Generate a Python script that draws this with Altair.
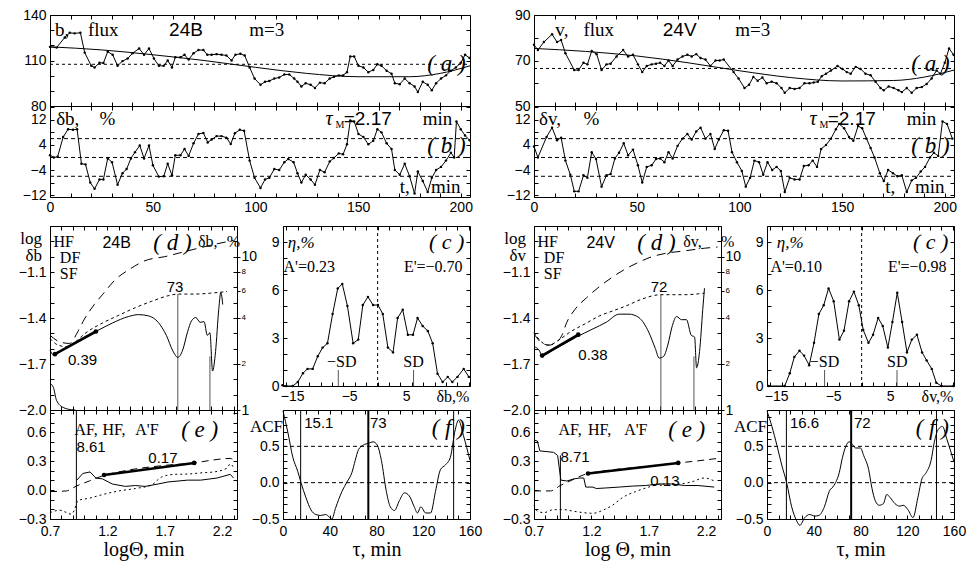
import altair as alt
import pandas as pd

SANS = "Liberation Sans"
SERIF = "Liberation Serif"
CW, CH = 964, 562

# ---------------- (a) flux, b and v ----------------
aL_t = [0, 3.2, 7.2, 9.6, 12.0, 14.8, 16.9, 20.1, 21.7, 24.1, 26.0, 28.1, 30.5, 32.9, 35.3, 37.8, 40.2, 43.4, 45.8, 48.2,
        50.6, 53.0, 55.4, 57.3, 59.4, 61.0, 63.5, 65.5, 67.5, 69.9, 72.3, 74.7, 76.6, 78.7, 81.1, 83.5, 85.9, 88.4, 90.3, 92.7,
        94.8, 97.2, 99.6, 102.5, 104.7, 106.8, 109.2, 111.6, 114.1, 116.5, 118.9, 120.5, 122.4, 124.5, 126.9, 129.0, 131.4, 133.7, 136.2, 138.2,
        140.6, 142.7, 144.6, 146.2, 148.1, 150.2, 152.6, 155.0, 157.4, 159.4, 161.4, 163.9, 166.3, 167.9, 170.3, 172.7, 175.1, 177.5, 179.1, 181.5,
        183.9, 185.9, 188.0, 190.4, 192.8, 195.2, 197.6, 200.0, 202.1, 204.3]
aL_v = [119.0, 118.5, 125.2, 128.3, 127.9, 128.3, 115.2, 106.5, 105.4, 108.5, 108.3, 115.8, 113.8, 106.5, 109.6, 111.3, 114.8, 117.9, 113.8, 117.9,
        111.3, 106.5, 106.5, 110.0, 105.4, 112.1, 112.1, 113.8, 110.6, 114.8, 116.9, 116.9, 113.8, 113.8, 114.2, 113.8, 113.3, 110.0, 113.8, 114.4,
        113.3, 105.4, 98.1, 94.0, 96.0, 96.5, 98.1, 98.8, 100.8, 100.8, 98.1, 96.0, 92.9, 95.0, 94.0, 91.9, 95.4, 95.0, 98.1, 99.2,
        100.2, 100.2, 102.3, 112.7, 112.7, 106.5, 105.4, 102.3, 103.8, 107.5, 106.5, 103.3, 101.3, 95.0, 94.4, 98.1, 95.0, 92.9, 89.2, 96.0,
        94.0, 90.4, 95.0, 98.1, 100.2, 103.3, 105.4, 108.5, 113.8, 111.7]
trend_t = [0, 25, 50, 75, 100, 125, 150, 175, 190, 204.5]
trendL_v = [119.0, 117.0, 113.8, 110.0, 105.5, 101.5, 99.3, 99.3, 101.5, 106.5]
aR_t = [0, 1.9, 4.8, 8.8, 11.2, 13.2, 15.3, 19.6, 21.7, 24.1, 26.0, 28.1, 30.5, 32.9, 35.3, 37.3, 40.2, 43.4, 45.8, 48.2,
        50.6, 52.7, 54.9, 57.3, 59.4, 61.4, 63.5, 65.5, 67.5, 69.9, 72.3, 74.7, 76.8, 79.0, 81.1, 83.5, 85.9, 88.4, 90.4, 92.4,
        97.2, 99.6, 102.5, 104.7, 106.8, 108.9, 111.2, 113.3, 115.7, 118.1, 120.5, 122.1, 124.5, 126.9, 129.3, 131.7, 134.1, 136.2, 138.2, 140.1,
        142.2, 144.6, 147.8, 150.2, 152.3, 154.2, 156.6, 159.0, 161.4, 163.9, 166.3, 168.7, 170.3, 172.7, 175.1, 177.5, 179.1, 181.5, 183.9, 186.3,
        188.8, 191.2, 193.6, 196.0, 197.9, 200.0, 202.1, 204.3]
aR_v = [76.9, 74.6, 78.1, 81.5, 78.1, 79.0, 73.2, 65.8, 65.8, 69.0, 68.3, 74.2, 72.8, 65.8, 68.3, 68.6, 71.8, 74.6, 71.8, 72.5,
        68.3, 64.9, 67.6, 68.3, 68.6, 69.0, 67.6, 70.0, 67.6, 70.4, 71.8, 72.5, 71.8, 72.8, 71.1, 70.4, 67.6, 70.0, 70.0, 70.4,
        64.9, 62.1, 57.9, 59.3, 62.8, 61.1, 62.5, 60.0, 60.7, 60.0, 57.9, 55.8, 57.9, 57.5, 57.9, 60.0, 60.0, 60.3, 60.7, 63.1,
        64.2, 65.6, 67.6, 66.3, 64.9, 64.2, 67.2, 66.3, 64.2, 63.5, 60.7, 57.9, 56.9, 58.6, 57.9, 56.9, 56.1, 57.9, 55.8, 57.9,
        58.3, 59.7, 62.1, 65.6, 64.2, 69.0, 75.3, 72.5]
trendR_v = [75.3, 74.0, 72.0, 69.0, 65.5, 62.5, 61.0, 61.2, 62.7, 65.8]

# ---------------- (b) relative deviations, % ----------------
bL_t = [0, 1.9, 3.7, 6.4, 8.8, 11.2, 13.2, 15.3, 17.3, 19.6, 21.7, 24.1, 26.0, 28.1, 30.2, 32.9, 35.3, 37.3, 39.4, 41.4,
        43.7, 45.8, 48.2, 50.1, 53.0, 55.4, 57.3, 59.4, 61.0, 63.5, 65.5, 67.5, 69.9, 72.3, 74.7, 76.8, 78.7, 81.1, 83.5, 85.9,
        88.0, 90.0, 92.4, 94.5, 97.2, 99.6, 102.5, 104.7, 106.8, 109.2, 111.6, 114.1, 116.0, 118.6, 120.5, 122.4, 124.5, 126.9, 129.0, 131.4,
        133.7, 136.2, 138.2, 140.6, 142.7, 144.6, 146.2, 148.1, 150.2, 152.6, 155.0, 157.4, 159.4, 161.4, 163.9, 166.3, 167.9, 170.3, 172.7, 175.1,
        177.5, 179.1, 181.5, 183.9, 185.9, 188.0, 190.4, 192.8, 195.2, 196.8, 197.9, 200.0, 202.1, 204.3]
bL_v = [0.7, 0.0, 0.2, 6.5, 9.0, 8.8, 9.0, -2.0, -2.2, -8.0, -10.0, -7.0, -7.0, -0.3, -1.5, -8.7, -5.0, -3.7, -0.3, 1.7,
        3.8, -0.3, 3.8, -2.5, -6.1, -6.0, -2.0, -5.7, 0.7, 0.7, 2.7, 0.5, 4.5, 7.5, 7.8, 4.8, 5.7, 6.8, 6.8, 6.3,
        4.3, 7.7, 8.8, 8.5, -1.0, -6.5, -9.7, -7.0, -6.5, -3.7, -4.0, -1.5, -0.5, -1.5, -5.0, -8.0, -5.5, -7.0, -8.7, -4.0,
        -4.7, -1.3, -0.2, 1.3, 1.0, 4.2, 11.8, 11.5, 7.5, 6.5, 4.2, 5.3, 9.0, 8.0, 4.5, 2.7, -4.0, -5.5, -2.0, -6.0,
        -11.5, -4.5, -7.5, -11.0, -6.5, -4.0, -3.0, -1.0, 1.5, 0.0, 11.5, 9.0, 7.0, 5.5]
bR_t = [0, 1.9, 6.1, 8.8, 11.2, 13.2, 15.3, 17.7, 19.6, 21.7, 24.1, 26.0, 28.1, 30.2, 32.9, 35.3, 37.3, 39.4, 41.4, 43.7,
        45.8, 48.2, 50.6, 52.7, 54.9, 57.3, 59.4, 61.4, 63.5, 65.5, 67.5, 69.9, 72.3, 74.7, 76.8, 79.0, 81.1, 83.5, 85.9, 88.0,
        90.0, 92.4, 94.5, 96.4, 98.8, 101.2, 103.1, 105.2, 107.3, 109.6, 111.6, 113.7, 116.0, 118.1, 120.2, 122.1, 124.5, 126.9, 129.3, 131.4,
        133.7, 135.7, 137.8, 139.8, 142.2, 144.6, 147.0, 148.6, 151.0, 153.4, 155.5, 157.8, 159.8, 161.9, 163.9, 165.8, 168.4, 170.3, 172.4, 174.8,
        177.0, 179.1, 181.5, 183.9, 186.0, 188.3, 190.4, 192.8, 194.7, 196.8, 198.9, 201.1, 203.7]
bR_v = [3.5, 0.0, 6.5, 9.5, 5.5, 6.3, -1.0, -5.5, -10.8, -10.8, -5.7, -6.5, 1.7, -0.5, -9.3, -5.7, -5.3, -0.3, 1.5, 4.5,
        0.7, 2.5, -2.5, -8.0, -3.0, -2.5, -0.5, -0.3, -1.5, 1.7, -0.3, 3.7, 6.0, 7.5, 5.7, 8.3, 9.5, 6.0, 7.5, 2.7,
        5.7, 8.7, 8.5, 1.7, -1.5, -4.3, -9.3, -6.5, -1.0, -1.5, -5.5, -1.5, -4.0, -3.0, -4.3, -11.0, -6.5, -7.0, -7.0, -2.7,
        -2.5, -1.0, -3.0, 2.7, 4.0, 6.0, 9.0, 10.7, 9.3, 6.5, 5.3, 10.0, 9.3, 6.0, 3.0, 0.0, -5.0, -7.5, -4.0, -5.0,
        -6.0, -5.7, -11.0, -7.3, -6.5, -4.5, -3.0, 0.0, 1.5, 0.5, 11.5, 10.7, 6.0]
b_levels = [6.0, 0.0, -6.0]

# ---------------- (d) log structure functions ----------------
dL_hf_x = [0.7, 0.786, 0.871, 0.943, 1.0, 1.086, 1.157, 1.271, 1.4, 1.529, 1.7, 1.843, 2.014, 2.157, 2.3]
dL_hf_y = [-1.513, -1.556, -1.566, -1.488, -1.407, -1.312, -1.248, -1.149, -1.079, -1.026, -1.0, -0.973, -0.941, -0.916, -0.894]
dL_df_x = [0.7, 0.771, 0.843, 0.914, 1.014, 1.157, 1.3, 1.443, 1.586, 1.729, 1.814, 1.957, 2.1, 2.243]
dL_df_y = [-1.534, -1.577, -1.587, -1.56, -1.496, -1.433, -1.382, -1.333, -1.291, -1.255, -1.244, -1.244, -1.238, -1.227]
dL_sf_x = [0.7, 0.729, 0.814, 0.957, 1.1, 1.243, 1.386, 1.471, 1.557, 1.643, 1.714, 1.771, 1.814, 1.857, 1.9, 1.934,
           1.971, 2.009, 2.043, 2.071, 2.094, 2.117, 2.143, 2.171, 2.189, 2.206]
dL_sf_y = [-1.608, -1.640, -1.608, -1.545, -1.488, -1.433, -1.39, -1.378, -1.386, -1.428, -1.513, -1.615, -1.657, -1.608, -1.488, -1.418,
           -1.397, -1.428, -1.424, -1.513, -1.496, -1.746, -1.619, -1.344, -1.233, -1.312]
dL_lo_x = [0.7, 0.729, 0.757, 0.814, 0.886, 0.92]
dL_lo_y = [-1.827, -1.852, -1.937, -1.983, -1.998, -2.0]
dL_fit_x = [0.743, 1.1]
dL_fit_y = [-1.636, -1.488]
dL_vx = [1.814, 2.094]
dL_vtop = [-1.244, -1.65]

dR_hf_x = [0.7, 0.757, 0.829, 0.894, 0.943, 0.986, 1.057, 1.157, 1.271, 1.386, 1.5, 1.614, 1.729, 1.843, 2.014, 2.186, 2.3]
dR_hf_y = [-1.503, -1.556, -1.577, -1.56, -1.513, -1.428, -1.344, -1.269, -1.195, -1.132, -1.079, -1.036, -1.0, -0.979, -0.962, -0.945, -0.937]
dR_df_x = [0.7, 0.757, 0.829, 0.914, 1.014, 1.157, 1.271, 1.386, 1.5, 1.643, 1.806, 2.014, 2.186]
dR_df_y = [-1.492, -1.551, -1.577, -1.545, -1.492, -1.433, -1.386, -1.354, -1.322, -1.276, -1.248, -1.248, -1.238]
dR_sf_x = [0.7, 0.743, 0.771, 0.871, 1.071, 1.214, 1.329, 1.443, 1.529, 1.614, 1.7, 1.757, 1.791, 1.829, 1.866, 1.906,
           1.943, 1.986, 2.029, 2.071, 2.1, 2.117, 2.143, 2.171, 2.186]
dR_sf_y = [-1.587, -1.608, -1.645, -1.608, -1.524, -1.471, -1.428, -1.375, -1.375, -1.397, -1.492, -1.598, -1.661, -1.651, -1.577, -1.45,
           -1.39, -1.411, -1.411, -1.513, -1.524, -1.725, -1.619, -1.344, -1.206]
dR_fit_x = [0.771, 1.086]
dR_fit_y = [-1.645, -1.509]
dR_vx = [1.806, 2.094]
dR_vtop = [-1.248, -1.65]

# ---------------- (e) AF, HF, A'F ----------------
eL_af_x = [0.934, 0.986, 1.049, 1.1, 1.157, 1.243, 1.357, 1.443, 1.529, 1.643, 1.729, 1.9, 2.014, 2.157, 2.271, 2.3]
eL_af_y = [0.103, 0.172, 0.188, 0.125, 0.116, 0.063, 0.038, 0.047, 0.038, 0.063, 0.084, 0.103, 0.103, 0.125, 0.163, 0.125]
eL_hf_x = [0.7, 0.843, 0.929, 1.043, 1.157, 1.3, 1.443, 1.586, 1.729, 1.957, 2.129, 2.271, 2.3]
eL_hf_y = [-0.016, -0.009, 0.041, 0.094, 0.147, 0.188, 0.219, 0.241, 0.259, 0.281, 0.313, 0.328, 0.313]
eL_ap_x = [0.7, 0.786, 0.886, 0.914, 0.943, 1.043, 1.157, 1.3, 1.443, 1.586, 1.671, 1.786, 1.9, 2.014, 2.129, 2.243, 2.271, 2.3]
eL_ap_y = [-0.234, -0.209, -0.25, -0.203, -0.109, -0.084, -0.047, -0.009, 0.016, 0.053, 0.134, 0.163, 0.166, 0.178, 0.188, 0.228, 0.272, 0.234]
eL_fit_x = [1.171, 1.957]
eL_fit_y = [0.156, 0.281]
eL_vtop = 0.83

eR_af_x = [0.7, 0.729, 0.751, 0.871, 0.906, 0.934, 0.986, 1.049, 1.1, 1.134, 1.151, 1.214, 1.243, 1.329, 1.443, 1.557,
           1.671, 1.786, 1.9, 2.014, 2.129, 2.271]
eR_af_y = [0.516, 0.509, 0.406, 0.391, 0.359, 0.103, 0.094, 0.116, 0.125, 0.125, 0.031, 0.031, 0.016, 0.022, 0.031, 0.041,
           0.047, 0.063, 0.063, 0.047, 0.047, 0.031]
eR_hf_x = [0.7, 0.843, 0.929, 1.014, 1.129, 1.3, 1.586, 1.957, 2.129, 2.3]
eR_hf_y = [-0.009, -0.009, 0.047, 0.094, 0.156, 0.197, 0.234, 0.281, 0.303, 0.328]
eR_ap_x = [0.7, 0.729, 0.786, 0.871, 0.957, 1.043, 1.129, 1.214, 1.3, 1.386, 1.471, 1.586, 1.7, 1.814, 1.957, 2.071, 2.186, 2.271]
eR_ap_y = [-0.156, -0.219, -0.234, -0.203, -0.203, -0.219, -0.234, -0.241, -0.209, -0.156, -0.078, -0.016, 0.031, 0.063, 0.063, 0.084, 0.125, 0.094]
eR_fit_x = [1.171, 1.957]
eR_fit_y = [0.172, 0.281]
eR_vtop = 0.359
e_vx = 0.93

# ---------------- (c) histograms eta, % ----------------
cL_x = [-16.7, -16.0, -14.9, -14.0, -13.1, -12.3, -11.4, -10.5, -9.65, -8.8, -7.9, -7.0, -6.2, -5.3, -4.3, -3.4, -2.6, -1.7, -0.8,
        0.06, 0.9, 1.8, 2.7, 3.5, 4.4, 5.3, 6.2, 7.0, 7.9, 8.8, 9.65, 10.5, 11.4, 12.3, 13.1, 14.0, 15.1, 16.0]
cL_y = [0.05, 0.0, 0.0, 0.25, 0.8, 1.07, 1.07, 1.86, 2.4, 2.67, 4.5, 6.1, 6.38, 5.0, 2.67, 2.9, 5.06, 5.57, 5.06,
        5.06, 4.5, 2.4, 2.1, 4.25, 4.76, 3.2, 3.2, 4.25, 3.75, 3.44, 2.67, 0.77, 0.25, 0.57, 0.25, 0.57, 1.07, 0.57]
cR_x = [-16.3, -13.5, -12.6, -11.8, -10.9, -10.1, -9.2, -8.35, -7.5, -6.65, -5.8, -4.9, -3.9, -3.1, -2.2, -1.36, -0.5, 0.28,
        1.2, 2.0, 2.9, 3.7, 4.6, 5.4, 6.25, 7.1, 7.95, 8.8, 9.7, 10.6, 11.4, 12.3, 13.1, 14.0, 16.1]
cR_y = [0, 0, 0.8, 1.82, 2.2, 1.9, 1.3, 2.7, 4.5, 5.05, 6.1, 5.3, 2.9, 3.45, 5.3, 5.9, 5.05, 3.5,
        2.7, 3.2, 4.25, 3.75, 2.4, 4.0, 5.83, 4.0, 2.1, 2.9, 3.2, 2.1, 1.6, 1.07, 0.2, 0, 0]
cL_sd = [-6.9, 6.3]
cR_sd = [-6.5, 6.2]

# ---------------- (f) ACF ----------------
fL_x = [0, 4.2, 8.4, 12.6, 15.4, 19.6, 23.9, 28.1, 32.3, 36.5, 40.1, 41.8, 44.9, 50.5, 54.7, 58.9, 61.8, 64.6, 68.8, 73.0, 77.2,
        80.6, 84.2, 88.4, 91.8, 95.4, 99.6, 103.9, 108.1, 112.3, 115.1, 117.9, 122.1, 126.3, 130.5, 134.7, 138.9, 143.2, 147.4, 150.2, 154.4, 160]
fL_y = [0.987, 0.689, 0.349, 0.157, 0.0, -0.204, -0.374, -0.438, -0.451, -0.438, -0.481, -0.502, -0.353, -0.119, 0.009, 0.136, 0.306, 0.455, 0.519, 0.54, 0.562,
        0.519, 0.306, -0.119, -0.332, -0.383, -0.247, -0.14, -0.183, -0.332, -0.417, -0.332, -0.417, -0.417, -0.119, 0.179, 0.243, 0.349, 0.732, 0.86, 0.647, 0.306]
fR_x = [0, 4.2, 8.4, 12.6, 16.8, 21.1, 25.3, 28.1, 32.3, 36.5, 40.7, 44.4, 49.1, 53.3, 57.5, 61.8, 64.6, 67.4, 70.2, 73.0, 75.8, 80.0,
        82.8, 87.0, 89.8, 92.6, 96.0, 99.6, 102.5, 105.3, 109.5, 113.7, 116.5, 120.7, 124.9, 129.1, 132.5, 136.1, 140.4, 143.2, 146.5, 150.2, 153.8, 160]
fR_y = [0.987, 0.774, 0.519, 0.243, 0.0, -0.332, -0.523, -0.587, -0.481, -0.438, -0.46, -0.451, -0.332, -0.119, -0.034, 0.136, 0.349, 0.498, 0.562, 0.528, 0.477, 0.477,
        0.37, 0.179, -0.077, -0.247, -0.311, -0.289, -0.162, -0.204, -0.289, -0.323, -0.311, -0.374, -0.481, -0.204, 0.051, 0.136, 0.306, 0.562, 0.732, 0.774, 0.604, 0.285]
fL_thin = [15.1, 146.0]
fL_thick = [73.0]
fR_thin = [16.6, 145.0]
fR_thick = [72.0]
f_levels = [0.5, 0.0]

# ---------------- axis values ----------------
t_ticks = list(range(0, 201, 10))
b_ticks = [-12, -8, -4, 0, 4, 8, 12, 16]
b_labels = [-12, -4, 4, 12]
t_labels = [0, 50, 100, 150, 200]
lg_ticks = [round(0.7 + 0.1 * i, 1) for i in range(17)]
lg_labels = [0.7, 1.2, 1.7, 2.2]
d_ticks = [round(-2.0 + 0.1 * i, 1) for i in range(13)]
d_labels = [-2.0, -1.7, -1.4, -1.1]
pct_labels = [1, 2, 4, 6, 8, 10]
e_ticks = [round(-0.3 + 0.1 * i, 1) for i in range(12)]
e_labels = [-0.3, 0.0, 0.3, 0.6]
c_xticks = list(range(-16, 17, 2))
c_xlabels = [-15, -5, 5]
c_yticks = list(range(0, 11))
c_ylabels = [0, 3, 6, 9]
f_xticks = list(range(0, 161, 10))
f_xlabels = [0, 40, 80, 120, 160]
f_yticks = [round(-0.5 + 0.1 * i, 1) for i in range(16)]
f_ylabels = [-0.5, 0.0, 0.5]

L = []


class Panel:
    def __init__(self, box, xdom, ydom):
        self.x0, self.x1, self.y0, self.y1 = box
        self.xdom, self.ydom = xdom, ydom

    def X(self, f, axis=None):
        return alt.X(f"{f}:Q", scale=alt.Scale(domain=self.xdom, range=[self.x0, self.x1], nice=False, zero=False), axis=axis)

    def Y(self, f, axis=None):
        return alt.Y(f"{f}:Q", scale=alt.Scale(domain=self.ydom, range=[self.y1, self.y0], nice=False, zero=False), axis=axis)


def hdf(p, yv=None):
    return pd.DataFrame({"hx": [p.xdom[0]], "hy": [p.ydom[0] if yv is None else yv]})


TICK = dict(labels=False, ticks=True, tickSize=4, tickWidth=1, domain=True, domainWidth=1, grid=False, title=None)


def frame(p, xt, yt):
    d = hdf(p)
    L.append(alt.Chart(d).mark_point(opacity=0).encode(
        x=p.X("hx", alt.Axis(orient="top", offset=-p.y1, values=xt, **TICK)),
        y=p.Y("hy", alt.Axis(orient="right", offset=p.x0 - CW, values=yt, **TICK))))
    L.append(alt.Chart(d).mark_point(opacity=0).encode(
        x=p.X("hx", alt.Axis(orient="bottom", offset=p.y0 - CH, values=xt, **TICK)),
        y=p.Y("hy", alt.Axis(orient="left", offset=-p.x1, values=yt, **TICK))))


def labels(p, xl=None, yl=None, xfmt=None, yfmt=None, xtitle=None, xpad=3):
    xa = ya = None
    if xl is not None:
        kw = dict(orient="bottom", offset=p.y1 - CH, values=xl, ticks=False, tickSize=0, domain=False,
                  grid=False, labelPadding=xpad)
        if xfmt:
            kw["format"] = xfmt
        if xtitle:
            kw.update(title=xtitle, titleFont=SERIF, titleFontSize=20, titleFontWeight="normal",
                      titlePadding=1, titleColor="black")
        else:
            kw["title"] = None
        xa = alt.Axis(**kw)
    if yl is not None:
        kw = dict(orient="left", offset=-p.x0, values=yl, ticks=False, tickSize=0, domain=False,
                  grid=False, labelPadding=4, title=None)
        if yfmt:
            kw["format"] = yfmt
        ya = alt.Axis(**kw)
    L.append(alt.Chart(hdf(p)).mark_point(opacity=0).encode(x=p.X("hx", xa), y=p.Y("hy", ya)))


def logaxis(p, dom, vals):
    ax = alt.Axis(orient="right", offset=p.x1 - CW, values=vals, format="d", ticks=True, tickSize=3,
                  domain=False, grid=False, title=None, labelPadding=1,
                  labelFontSize={"condition": {"test": "datum.value == 1 || datum.value == 10", "value": 14},
                                 "value": 8})
    L.append(alt.Chart(hdf(p, 2.0)).mark_point(opacity=0).encode(
        x=p.X("hx"),
        y=alt.Y("hy:Q", scale=alt.Scale(type="log", domain=dom, range=[p.y1, p.y0], nice=False), axis=ax)))


def line(p, xs, ys, dash=None, sw=1.0, interp="linear", color="black", pts=0):
    n = min(len(xs), len(ys))
    df = pd.DataFrame({"x": list(xs)[:n], "y": list(ys)[:n], "i": list(range(n))})
    kw = dict(color=color, strokeWidth=sw, interpolate=interp)
    if dash:
        kw["strokeDash"] = list(dash)
    L.append(alt.Chart(df).mark_line(**kw).encode(x=p.X("x"), y=p.Y("y"), order="i:Q"))
    if pts:
        L.append(alt.Chart(df).mark_circle(size=pts, color=color, opacity=1).encode(x=p.X("x"), y=p.Y("y")))


def vrules(p, xs, ya, yb, sw=1.0, color="black", dash=None):
    df = pd.DataFrame({"x": list(xs), "y": list(ya), "y2": list(yb)})
    kw = dict(color=color, strokeWidth=sw)
    if dash:
        kw["strokeDash"] = list(dash)
    L.append(alt.Chart(df).mark_rule(**kw).encode(x=p.X("x"), y=p.Y("y"), y2=alt.Y2("y2")))


def hrules(p, ys, dash=(4, 3)):
    df = pd.DataFrame({"y": list(ys), "x": [p.xdom[0]] * len(ys), "x2": [p.xdom[1]] * len(ys)})
    L.append(alt.Chart(df).mark_rule(color="black", strokeWidth=1, strokeDash=list(dash)).encode(
        x=p.X("x"), x2=alt.X2("x2"), y=p.Y("y")))


def txt(p, items, size=17, font=SERIF, align="left", italic=False, baseline="middle", dy=0):
    df = pd.DataFrame({"t": [i[0] for i in items], "x": [i[1] for i in items], "y": [i[2] for i in items]})
    kw = dict(align=align, baseline=baseline, font=font, fontSize=size, color="black")
    if italic:
        kw["fontStyle"] = "italic"
    if dy:
        kw["dy"] = dy
    L.append(alt.Chart(df).mark_text(**kw).encode(x=p.X("x"), y=p.Y("y"), text="t:N"))


def half(S):
    s = S["shift"]
    # ---- (a)
    pa = Panel((42 + s, 462 + s, 7, 98), [0, 204.5], S["a_dom"])
    frame(pa, t_ticks, S["a_ticks"])
    labels(pa, yl=S["a_labels"])
    hrules(pa, [S["a_mean"]], dash=(3, 3))
    line(pa, trend_t, S["trend"], interp="monotone")
    line(pa, S["a_t"], S["a_v"], pts=6)
    txt(pa, S["a_words"], size=19)
    txt(pa, S["a_words2"], size=19, font=SANS)
    txt(pa, [("( a )", 202.4, S["a_par"])], size=23, italic=True, align="right")
    # ---- (b)
    pb = Panel((42 + s, 462 + s, 98, 189), [0, 204.5], [-12.6, 16.4])
    frame(pb, t_ticks, b_ticks)
    labels(pb, xl=t_labels, yl=b_labels)
    hrules(pb, b_levels, dash=(4, 3))
    line(pb, S["b_t"], S["b_v"], pts=6)
    txt(pb, S["b_words"], size=19)
    txt(pb, [("=2.17", 143.0, 12.3)], size=19, font=SANS)
    txt(pb, [("τ", 134.1, 12.3)], size=20, italic=True)
    txt(pb, [("M", 139.0, 10.4)], size=10)
    txt(pb, [("( b )", 202.4, 3.5)], size=23, italic=True, align="right")
    # ---- (d)
    pd_ = Panel((42 + s, 229 + s, 218, 402), [0.7, 2.33], [-2.0, -0.8])
    frame(pd_, lg_ticks, d_ticks)
    labels(pd_, yl=d_labels, yfmt=".1f")
    logaxis(pd_, [1, 15.85], pct_labels)
    vrules(pd_, S["d_vx"], [-2.0, -2.0], S["d_vtop"], color="#555555")
    line(pd_, S["d_hf"][0], S["d_hf"][1], dash=(9, 6), interp="monotone")
    line(pd_, S["d_df"][0], S["d_df"][1], dash=(3, 3), interp="monotone")
    line(pd_, S["d_sf"][0], S["d_sf"][1], interp="monotone")
    if S.get("d_lo"):
        line(pd_, S["d_lo"][0], S["d_lo"][1], interp="monotone")
    line(pd_, S["d_fit"][0], S["d_fit"][1], sw=2.6, pts=22)
    txt(pd_, S["d_left"], size=17, align="right")
    txt(pd_, S["d_words"], size=16)
    txt(pd_, [(S["tag"], 1.157, -0.91)], size=16, font=SANS)
    txt(pd_, [("( d )", 1.6, -0.91)], size=23, italic=True)
    txt(pd_, S["d_nums"], size=15, font=SANS)
    txt(pd_, [(S["d_lag"], 1.79, -1.195)], size=15, font=SANS, align="center")
    # ---- (e)
    pe = Panel((42 + s, 229 + s, 402, 511), [0.7, 2.33], [-0.3, 0.83])
    frame(pe, lg_ticks, e_ticks)
    labels(pe, xl=lg_labels, yl=e_labels, xfmt=".1f", yfmt=".1f", xtitle=S["e_title"], xpad=5)
    vrules(pe, [e_vx], [-0.3], [S["e_vtop"]])
    line(pe, S["e_hf"][0], S["e_hf"][1], dash=(7, 5), interp="monotone")
    line(pe, S["e_ap"][0], S["e_ap"][1], dash=(2, 3), interp="monotone")
    line(pe, S["e_af"][0], S["e_af"][1], interp="linear")
    line(pe, S["e_fit"][0], S["e_fit"][1], sw=2.6, pts=22)
    txt(pe, S["e_words"], size=16)
    txt(pe, [("( e )", S["e_par"], 0.62)], size=23, italic=True)
    txt(pe, S["e_nums"], size=15, font=SANS)
    # ---- (c)
    pc = Panel((275 + s, 462 + s, 218, 378), [-16.6, 16.2], [0, 10])
    frame(pc, c_xticks, c_yticks)
    labels(pc, xl=c_xlabels, yl=c_ylabels)
    vrules(pc, [0.0], [0.0], [10.0], dash=(3, 3))
    vrules(pc, S["c_sd"], [0.0, 0.0], [1.0, 1.0], color="#555555")
    line(pc, S["c"][0], S["c"][1], pts=6)
    txt(pc, [("η,%", S["c_eta"], 8.95)], size=17, italic=True)
    txt(pc, [(S["c_A"], S["c_Ax"], 7.45)], size=16)
    txt(pc, [(S["c_E"], 14.9, 7.45)], size=16, align="right")
    txt(pc, [("( c )", 15.2, 9.0)], size=22, italic=True, align="right")
    txt(pc, S["c_sdlab"], size=16, align="center")
    txt(pc, [(S["c_unit"], 16.1, 0.0)], size=16, align="right", baseline="top", dy=3)
    # ---- (f)
    pf = Panel((275 + s, 462 + s, 402, 511), [0, 160], [-0.5, 1.0])
    frame(pf, f_xticks, f_yticks)
    labels(pf, xl=f_xlabels, yl=f_ylabels, yfmt=".1f", xtitle="τ,  min", xpad=5)
    hrules(pf, f_levels, dash=(4, 3))
    vrules(pf, S["f_thin"], [-0.5] * len(S["f_thin"]), [1.0] * len(S["f_thin"]))
    vrules(pf, S["f_thick"], [-0.5], [1.0], sw=2)
    line(pf, S["f"][0], S["f"][1], interp="monotone")
    txt(pf, [("ACF", 0, 0.77)], size=17, align="right")
    txt(pf, S["f_nums"], size=15, font=SANS)
    txt(pf, [("( f )", 155.6, 0.75)], size=23, italic=True, align="right")


half(dict(
    shift=0, tag="24B",
    a_dom=[80, 140], a_ticks=list(range(80, 141, 10)), a_labels=[80, 110, 140], a_mean=107.5,
    trend=trendL_v, a_t=aL_t, a_v=aL_v, a_par=107.5,
    a_words=[("b,", 2.4, 130), ("flux", 18.5, 130), ("m=3", 97, 130)],
    a_words2=[("24B", 58, 130)],
    b_t=bL_t, b_v=bL_v,
    b_words=[("δb,", 3.0, 12.3), ("%", 24.1, 12.3), ("min", 181.5, 12.3), ("t,", 170.3, -9.3), ("min", 185.5, -9.3)],
    d_vx=dL_vx, d_vtop=dL_vtop,
    d_hf=(dL_hf_x, dL_hf_y), d_df=(dL_df_x, dL_df_y), d_sf=(dL_sf_x, dL_sf_y), d_lo=(dL_lo_x, dL_lo_y),
    d_fit=(dL_fit_x, dL_fit_y),
    d_left=[("log", 0.63, -0.885), ("δb", 0.63, -0.998)],
    d_words=[("HF", 0.73, -0.905), ("DF", 0.786, -1.01), ("SF", 0.786, -1.115), ("δb,", 1.99, -0.905), ("%", 2.24, -0.905)],
    d_nums=[("0.39", 0.857, -1.672)], d_lag="73",
    e_title="logΘ,  min", e_vtop=eL_vtop,
    e_hf=(eL_hf_x, eL_hf_y), e_ap=(eL_ap_x, eL_ap_y), e_af=(eL_af_x, eL_af_y), e_fit=(eL_fit_x, eL_fit_y),
    e_words=[("AF,", 0.914, 0.625), ("HF,", 1.157, 0.625), ("A'F", 1.443, 0.625)], e_par=1.843,
    e_nums=[("8.61", 0.93, 0.45), ("0.17", 1.557, 0.33)],
    c=(cL_x, cL_y), c_sd=cL_sd, c_eta=-15.76, c_A="A'=0.23", c_Ax=-16.5, c_E="E'=−0.70",
    c_sdlab=[("−SD", -6.3, 1.52), ("SD", 6.3, 1.52)], c_unit="δb,%",
    f=(fL_x, fL_y), f_thin=fL_thin, f_thick=fL_thick,
    f_nums=[("15.1", 18.2, 0.82), ("73", 74.4, 0.82)],
))

half(dict(
    shift=484, tag="24V",
    a_dom=[50, 90], a_ticks=[50, 60, 70, 80, 90], a_labels=[50, 70, 90], a_mean=66.5,
    trend=trendR_v, a_t=aR_t, a_v=aR_v, a_par=68.3,
    a_words=[("v,", 10.4, 83.3), ("flux", 24.1, 83.3), ("m=3", 98, 83.3)],
    a_words2=[("24V", 62.7, 83.3)],
    b_t=bR_t, b_v=bR_v,
    b_words=[("δv,", 2.4, 12.3), ("%", 24.1, 12.3), ("min", 181.5, 12.3), ("t,", 171.0, -9.3), ("min", 185.5, -9.3)],
    d_vx=dR_vx, d_vtop=dR_vtop,
    d_hf=(dR_hf_x, dR_hf_y), d_df=(dR_df_x, dR_df_y), d_sf=(dR_sf_x, dR_sf_y), d_lo=None,
    d_fit=(dR_fit_x, dR_fit_y),
    d_left=[("log", 0.63, -0.885), ("δv", 0.63, -0.998)],
    d_words=[("HF", 0.73, -0.905), ("DF", 0.786, -1.01), ("SF", 0.786, -1.115), ("δv,", 2.0, -0.905), ("%", 2.33, -0.905)],
    d_nums=[("0.38", 1.086, -1.64)], d_lag="72",
    e_title="log  Θ,  min", e_vtop=eR_vtop,
    e_hf=(eR_hf_x, eR_hf_y), e_ap=(eR_ap_x, eR_ap_y), e_af=(eR_af_x, eR_af_y), e_fit=(eR_fit_x, eR_fit_y),
    e_words=[("AF,", 0.914, 0.625), ("HF,", 1.171, 0.625), ("A'F", 1.486, 0.625)], e_par=1.87,
    e_nums=[("8.71", 0.93, 0.344), ("0.13", 1.714, 0.094)],
    c=(cR_x, cR_y), c_sd=cR_sd, c_eta=-14.9, c_A="A'=0.10", c_Ax=-16.0, c_E="E'=−0.98",
    c_sdlab=[("−SD", -6.5, 1.52), ("SD", 6.25, 1.52)], c_unit="δv,%",
    f=(fR_x, fR_y), f_thin=fR_thin, f_thick=fR_thick,
    f_nums=[("16.6", 19.6, 0.82), ("72", 74.4, 0.82)],
))

chart = alt.layer(*L).resolve_scale(x="independent", y="independent").properties(
    width=CW, height=CH, autosize=alt.AutoSizeParams(type="none"), padding=0, background="white"
).configure_view(stroke=None).configure_axis(
    labelFont=SANS, labelFontSize=14, labelColor="black", labelFlush=False, labelOverlap=False,
    tickColor="black", domainColor="black", grid=False
)

chart.save("out.html", embed_options={"renderer": "svg", "actions": False})
